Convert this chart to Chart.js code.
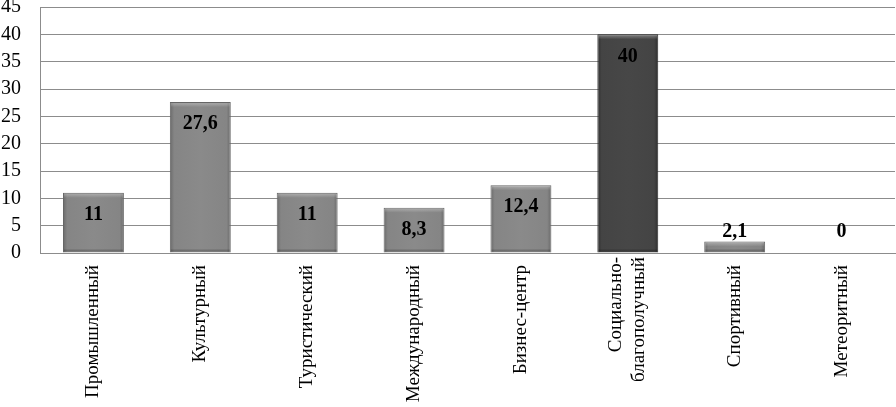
<!DOCTYPE html>
<html>
<head>
<meta charset="utf-8">
<script src="https://cdn.jsdelivr.net/npm/chart.js@4/dist/chart.umd.min.js"></script>
<style>
  html, body { margin: 0; padding: 0; background: #fff; }
  #wrap { width: 896px; height: 407px; }
</style>
</head>
<body>
<div id="wrap"><canvas id="chart" width="896" height="407"></canvas></div>
<script>
// данные диаграммы
const categories = ['Промышленный', 'Культурный', 'Туристический', 'Международный', 'Бизнес-центр', ['Социально-', 'благополучный'], 'Спортивный', 'Метеоритный'];
const values = [11, 27.6, 11, 8.3, 12.4, 40, 2.1, 0];
const valueLabels = ['11', '27,6', '11', '8,3', '12,4', '40', '2,1', '0'];
const yTicks = [0, 5, 10, 15, 20, 25, 30, 35, 40, 45];
const darkIndex = 5;

const serif = '"Liberation Serif", "Times New Roman", serif';
const BAR_PCT = 0.57;
const X_FONT = 19;
const X_PAD = 4;

// градиент для каждого столбика (эффект объёма)
function barFill(context) {
    const chart = context.chart;
    const area = chart.chartArea;
    if (!area) return '#808080';
    const xs = chart.scales.x;
    const cx = xs.getPixelForValue(context.dataIndex);
    const w = (xs.width / categories.length) * BAR_PCT;
    const g = chart.ctx.createLinearGradient(cx - w / 2, 0, cx + w / 2, 0);
    if (context.dataIndex === darkIndex) {
        g.addColorStop(0, '#2e2e2e');
        g.addColorStop(0.07, '#444444');
        g.addColorStop(0.5, '#474747');
        g.addColorStop(0.93, '#444444');
        g.addColorStop(1, '#2e2e2e');
    } else {
        g.addColorStop(0, '#6a6a6a');
        g.addColorStop(0.07, '#858585');
        g.addColorStop(0.5, '#8a8a8a');
        g.addColorStop(0.93, '#858585');
        g.addColorStop(1, '#6a6a6a');
    }
    return g;
}

// фаска сверху и подписи значений
const valueLabelPlugin = {
    id: 'valueLabels',
    afterDatasetsDraw(chart) {
        const ctx = chart.ctx;
        const meta = chart.getDatasetMeta(0);
        ctx.save();
        meta.data.forEach((bar, i) => {
            const h = bar.base - bar.y;
            if (h < 2) return;
            const w = bar.width;
            const bev = Math.min(5, h / 2);
            const g = ctx.createLinearGradient(0, bar.y, 0, bar.y + bev);
            g.addColorStop(0, 'rgba(255,255,255,0.35)');
            g.addColorStop(1, 'rgba(255,255,255,0)');
            ctx.fillStyle = g;
            ctx.fillRect(bar.x - w / 2 + 1, bar.y + 1, w - 2, bev);
            ctx.fillStyle = 'rgba(0,0,0,0.18)';
            ctx.fillRect(bar.x - w / 2 + 1, bar.base - 3, w - 2, 2);
        });
        ctx.font = 'bold 20px ' + serif;
        ctx.fillStyle = '#000';
        ctx.textAlign = 'center';
        ctx.textBaseline = 'middle';
        meta.data.forEach((bar, i) => {
            const y = Math.min(bar.y + 22, bar.base - 21);
            ctx.fillText(valueLabels[i], bar.x, y);
        });
        ctx.restore();
    }
};

// двухстрочная подпись по центру категории
const multiLinePlugin = {
    id: 'multiLine',
    afterDraw(chart) {
        const xs = chart.scales.x;
        const ctx = chart.ctx;
        categories.forEach((lab, i) => {
            if (!Array.isArray(lab)) return;
            const cx = xs.getPixelForTick(i);
            const lh = X_FONT * 1.2;
            ctx.save();
            ctx.font = X_FONT + 'px ' + serif;
            ctx.fillStyle = '#000';
            ctx.textAlign = 'right';
            ctx.textBaseline = 'middle';
            lab.forEach((line, k) => {
                const x = cx + (k - (lab.length - 1) / 2) * lh;
                ctx.save();
                ctx.translate(x, xs.top + X_PAD);
                ctx.rotate(-Math.PI / 2);
                ctx.fillText(line, 0, 0);
                ctx.restore();
            });
            ctx.restore();
        });
    }
};

try {
    new Chart(document.getElementById('chart').getContext('2d'), {
        type: 'bar',
        data: {
            labels: categories,
            datasets: [{
                data: values,
                backgroundColor: barFill,
                borderColor: (c) => c.dataIndex === darkIndex ? '#2a2a2a' : '#666666',
                borderWidth: 1,
                barPercentage: BAR_PCT,
                categoryPercentage: 1.0
            }]
        },
        options: {
            responsive: false,
            animation: false,
            layout: { padding: { top: 0, right: 1, left: 0, bottom: 0 } },
            plugins: { legend: { display: false }, tooltip: { enabled: false } },
            scales: {
                x: {
                    grid: { display: false },
                    border: { display: true, color: '#8c8c8c' },
                    ticks: {
                        color: (c) => Array.isArray(categories[c.index]) ? 'rgba(0,0,0,0)' : '#000',
                        font: { family: serif, size: X_FONT, lineHeight: 1.2 },
                        maxRotation: 90,
                        minRotation: 90,
                        padding: X_PAD,
                        autoSkip: false
                    },
                    afterFit(scale) { scale.height = 154; }
                },
                y: {
                    min: 0,
                    max: 45,
                    afterBuildTicks(scale) { scale.ticks = yTicks.map(v => ({ value: v })); },
                    grid: { color: '#8c8c8c', lineWidth: 1, drawTicks: false },
                    border: { display: true, color: '#8c8c8c' },
                    ticks: {
                        color: '#000',
                        font: { family: serif, size: 20 },
                        padding: 19,
                        autoSkip: false
                    },
                    afterFit(scale) {
                        scale.width = 40;
                        scale.paddingTop = 7;
                    }
                }
            }
        },
        plugins: [valueLabelPlugin, multiLinePlugin]
    });
} catch (e) {
    console.error('Ошибка при построении диаграммы:', e);
}
</script>
</body>
</html>
